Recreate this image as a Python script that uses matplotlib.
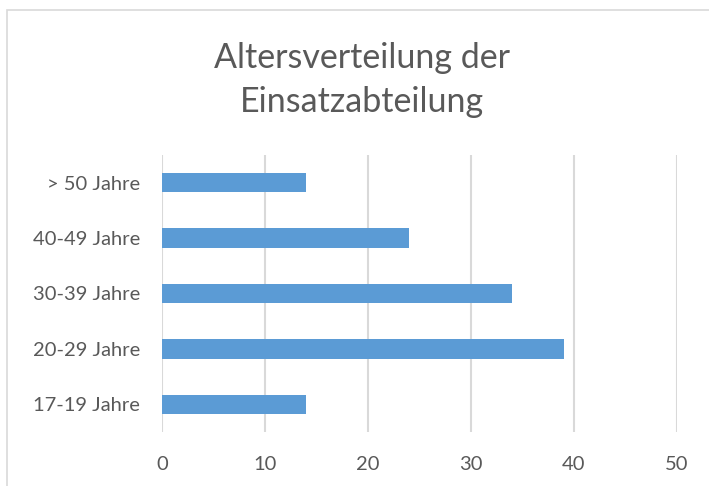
import matplotlib
matplotlib.use('Agg')
import matplotlib.pyplot as plt
from matplotlib.patches import Rectangle

categories = ['17-19 Jahre', '20-29 Jahre', '30-39 Jahre', '40-49 Jahre', '> 50 Jahre']
values = [14, 39, 34, 24, 14]
xticks = [0, 10, 20, 30, 40, 50]

plt.rcParams['font.family'] = ['Lato', 'DejaVu Sans']
text_col = '#595959'

W, H = 709, 486
fig = plt.figure(figsize=(W/100, H/100), dpi=100)
ax = fig.add_axes([162/W, 1-432/H, (677-162)/W, (432-155)/H])

ax.barh(range(len(categories)), values, height=0.35, color='#5b9bd5', zorder=3)
ax.set_xlim(0, 50)
ax.set_ylim(-0.5, len(categories)-0.5)
ax.set_xticks(xticks)
ax.set_yticks(range(len(categories)))
ax.set_yticklabels(categories)
ax.grid(axis='x', color='#d9d9d9', linewidth=1.5, zorder=0)
for s in ax.spines.values():
    s.set_visible(False)
ax.tick_params(axis='both', length=0, labelsize=14.5, labelcolor=text_col)
ax.tick_params(axis='x', pad=17)
ax.tick_params(axis='y', pad=16)

fig.text(362/W, 1-80/H, 'Altersverteilung der\nEinsatzabteilung', ha='center', va='center',
         fontsize=24.5, color=text_col, linespacing=1.45)

# chart frame (cut off at right/bottom)
fig.patches.append(Rectangle((7/W, -0.1), 1.2, 1-9.5/H+0.1, transform=fig.transFigure,
                             fill=False, edgecolor='#d9d9d9', linewidth=1.2))

fig.savefig('out.png', dpi=100)
